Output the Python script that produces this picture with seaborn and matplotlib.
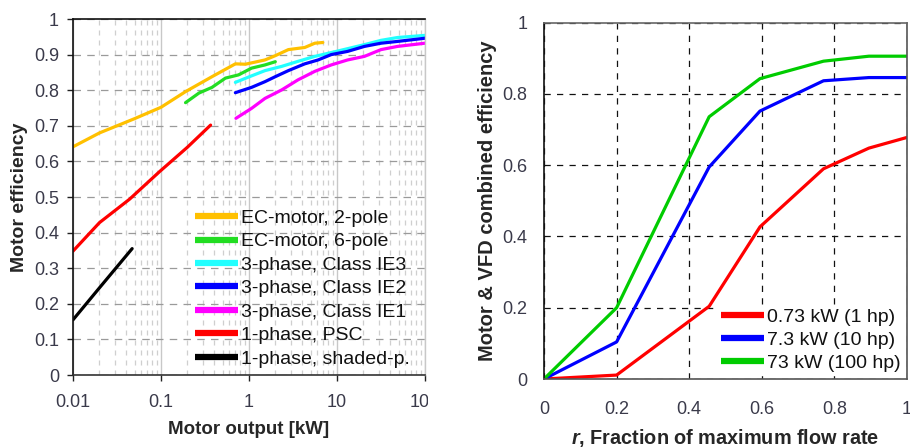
import numpy as np
import pandas as pd
import matplotlib
matplotlib.use("Agg")
import matplotlib.pyplot as plt
import seaborn as sns
from matplotlib.ticker import FixedLocator, LogLocator, NullFormatter
from matplotlib.transforms import Bbox

# ---- Motor efficiency vs. motor output (log x) ----
ec2_kw = [0.01, 0.02, 0.05, 0.1, 0.19, 0.38, 0.70, 0.91, 1.52, 1.99, 2.8, 4.3, 5.6, 6.9]
ec2_eff = [0.641, 0.68, 0.72, 0.752, 0.796, 0.838, 0.874, 0.873, 0.885, 0.897, 0.914, 0.92, 0.932, 0.934]

ec6_kw = [0.19, 0.27, 0.38, 0.54, 0.76, 1.07, 1.52, 1.99]
ec6_eff = [0.765, 0.792, 0.808, 0.834, 0.843, 0.862, 0.871, 0.880]

ie3_kw = [0.70, 0.99, 1.52, 2.36, 3.6, 5.6, 9.8, 20.5, 31.6, 48.7, 100]
ie3_eff = [0.822, 0.837, 0.855, 0.867, 0.881, 0.895, 0.909, 0.928, 0.940, 0.948, 0.954]

ie2_kw = [0.70, 1.07, 1.52, 1.99, 2.8, 4.3, 6.1, 8.6, 13.2, 20.5, 31.6, 48.7, 100]
ie2_eff = [0.793, 0.808, 0.824, 0.838, 0.855, 0.874, 0.885, 0.900, 0.909, 0.923, 0.932, 0.937, 0.946]

ie1_kw = [0.71, 1.07, 1.52, 2.36, 3.6, 5.6, 8.6, 13.2, 20.5, 31.6, 48.7, 100]
ie1_eff = [0.721, 0.749, 0.777, 0.801, 0.829, 0.853, 0.871, 0.885, 0.895, 0.914, 0.923, 0.932]

psc_kw = [0.01, 0.02, 0.044, 0.096, 0.2, 0.366]
psc_eff = [0.348, 0.428, 0.494, 0.571, 0.64, 0.702]

shaded_kw = [0.01, 0.02, 0.047]
shaded_eff = [0.155, 0.245, 0.355]

left_names = ["EC-motor, 2-pole", "EC-motor, 6-pole", "3-phase, Class IE3",
              "3-phase, Class IE2", "3-phase, Class IE1", "1-phase, PSC",
              "1-phase, shaded-p."]
left_colors = ["#FFC000", "#22DD22", "#22FFFF", "#0000FF", "#FF00FF", "#FF0000", "#000000"]
left_series = [(ec2_kw, ec2_eff), (ec6_kw, ec6_eff), (ie3_kw, ie3_eff),
               (ie2_kw, ie2_eff), (ie1_kw, ie1_eff), (psc_kw, psc_eff),
               (shaded_kw, shaded_eff)]
left_xticks = [0.01, 0.1, 1, 10, 100]
left_xticklabels = ["0.01", "0.1", "1", "10", "100"]
left_yticks = [0, 0.1, 0.2, 0.3, 0.4, 0.5, 0.6, 0.7, 0.8, 0.9, 1.0]
left_yticklabels = ["0", "0.1", "0.2", "0.3", "0.4", "0.5", "0.6", "0.7", "0.8", "0.9", "1"]

# ---- Combined motor + VFD efficiency vs. flow fraction ----
flow_r = [0, 0.2, 0.455, 0.595, 0.77, 0.895, 1.0]
eff_073kw = [0, 0.011, 0.204, 0.427, 0.59, 0.648, 0.678]
eff_73kw = [0, 0.104, 0.595, 0.752, 0.837, 0.846, 0.846]
eff_73kw_big = [0, 0.2, 0.736, 0.843, 0.892, 0.906, 0.906]
right_names = ["0.73 kW (1 hp)", "7.3 kW (10 hp)", "73 kW (100 hp)"]
right_colors = ["#FF0000", "#0000FF", "#00CC00"]
right_ticks = [0, 0.2, 0.4, 0.6, 0.8, 1.0]
right_ticklabels = ["0", "0.2", "0.4", "0.6", "0.8", "1"]

sns.set_theme(style="white")
plt.rcParams["font.family"] = ["Liberation Sans", "DejaVu Sans"]
plt.rcParams["mathtext.fontset"] = "custom"
plt.rcParams["mathtext.it"] = "Liberation Sans:italic:bold"
plt.rcParams["mathtext.rm"] = "Liberation Sans:bold"

tick_color = "#3a3a4a"
tick_size = 13
label_size = 13.5
legend_size = 14

fig = plt.figure(figsize=(9.1, 4.48), dpi=100)
ax1 = fig.add_axes([73 / 910, 1 - 375 / 448, (425 - 73) / 910, (375 - 19) / 448])
ax2 = fig.add_axes([544 / 910, 1 - 379 / 448, (907 - 544) / 910, (379 - 22.7) / 448])

# left panel
frames = []
for name, (xs, ys) in zip(left_names, left_series):
    frames.append(pd.DataFrame({"kw": xs, "eff": ys, "motor": name}))
df_left = pd.concat(frames, ignore_index=True)
ax1.set_xscale("log")
sns.lineplot(data=df_left, x="kw", y="eff", hue="motor", hue_order=left_names,
             palette=dict(zip(left_names, left_colors)), linewidth=2.3,
             sort=False, estimator=None, ax=ax1, legend=False)
ax1.set_xlim(0.01, 100)
ax1.set_ylim(0, 1)
ax1.xaxis.set_major_locator(FixedLocator(left_xticks))
ax1.set_xticklabels(left_xticklabels)
ax1.xaxis.set_minor_locator(LogLocator(base=10, subs=np.arange(2, 10)))
ax1.xaxis.set_minor_formatter(NullFormatter())
ax1.set_yticks(left_yticks)
ax1.set_yticklabels(left_yticklabels)
ax1.grid(axis="y", which="major", color="#9a9a9a", linestyle=(0, (6, 5)), linewidth=0.9)
ax1.grid(axis="x", which="major", color="#c8c8c8", linestyle="-", linewidth=1.0)
ax1.grid(axis="x", which="minor", color="#cfcfcf", linestyle=(0, (4, 4)), linewidth=0.9)
ax1.set_axisbelow(True)
for side in ["left", "top"]:
    ax1.spines[side].set_color("#111111")
    ax1.spines[side].set_linewidth(1.2)
ax1.spines["bottom"].set_color("#333333")
ax1.spines["bottom"].set_linewidth(1.2)
ax1.spines["right"].set_color("#c8c8c8")
ax1.spines["right"].set_linewidth(1.0)
ax1.tick_params(axis="both", which="major", direction="out", length=4, width=1.0,
                color="#222222", labelsize=tick_size, labelcolor=tick_color, pad=6)
ax1.tick_params(axis="x", which="major", pad=10)
ax1.tick_params(axis="x", which="minor", length=0)
ax1.tick_params(axis="y", left=True)
ax1.tick_params(axis="x", bottom=True)
ax1.set_xlabel("Motor output [kW]", fontsize=label_size, fontweight="bold", labelpad=7)
ax1.set_ylabel("Motor efficiency", fontsize=14, fontweight="bold", labelpad=4)
leg1_handles = [plt.Line2D([], [], color=c, linewidth=4.5, solid_capstyle="butt")
                for c in left_colors]
leg1 = ax1.legend(leg1_handles, left_names, loc="lower right", bbox_to_anchor=(0.99, -0.012),
                  frameon=False, fontsize=legend_size, handlelength=2.2, handletextpad=0.15,
                  labelspacing=0.3, borderaxespad=0.2)
for t in leg1.get_texts():
    t.set_color("#111111")

# right panel
df_right = pd.DataFrame({
    "r": flow_r * 3,
    "eff": eff_073kw + eff_73kw + eff_73kw_big,
    "size": sum([[n] * len(flow_r) for n in right_names], []),
})
sns.lineplot(data=df_right, x="r", y="eff", hue="size", hue_order=right_names,
             palette=dict(zip(right_names, right_colors)), linewidth=2.3,
             sort=False, estimator=None, ax=ax2, legend=False)
ax2.set_xlim(0, 1)
ax2.set_ylim(0, 1)
ax2.set_xticks(right_ticks)
ax2.set_xticklabels(right_ticklabels)
ax2.set_yticks(right_ticks)
ax2.set_yticklabels(right_ticklabels)
ax2.grid(True, color="#111111", linestyle=(0, (5, 5)), linewidth=0.9)
ax2.set_axisbelow(True)
ax2.spines["left"].set_color("#111111")
ax2.spines["top"].set_color("#666666")
ax2.spines["bottom"].set_color("#555555")
ax2.spines["right"].set_color("#555555")
for s in ax2.spines.values():
    s.set_linewidth(1.2)
ax2.tick_params(axis="both", length=0, labelsize=tick_size, labelcolor=tick_color)
ax2.tick_params(axis="x", pad=16)
ax2.tick_params(axis="y", pad=12)
ax2.set_xlabel("$r$, Fraction of maximum flow rate", fontsize=14.3,
               fontweight="bold", labelpad=6)
ax2.set_ylabel("Motor & VFD combined efficiency", fontsize=14.5,
               fontweight="bold", labelpad=4)
leg2_handles = [plt.Line2D([], [], color=c, linewidth=4.5, solid_capstyle="butt")
                for c in right_colors]
leg2 = ax2.legend(leg2_handles, right_names, loc="lower right", bbox_to_anchor=(1.0, 0.0),
                  frameon=True, fancybox=False, framealpha=1.0, edgecolor="white",
                  fontsize=legend_size, handlelength=2.2, handletextpad=0.15,
                  labelspacing=0.28, borderaxespad=0.2, borderpad=0.15)
for t in leg2.get_texts():
    t.set_color("#111111")

# the left panel is trimmed at its right edge, cutting the last tick label
fig.canvas.draw()
clip = Bbox([[0, 0], [428, 448]])
last = ax1.get_xticklabels()[-1]
last.set_clip_box(clip)
last.set_clip_on(True)

fig.savefig("out.png", dpi=100)
